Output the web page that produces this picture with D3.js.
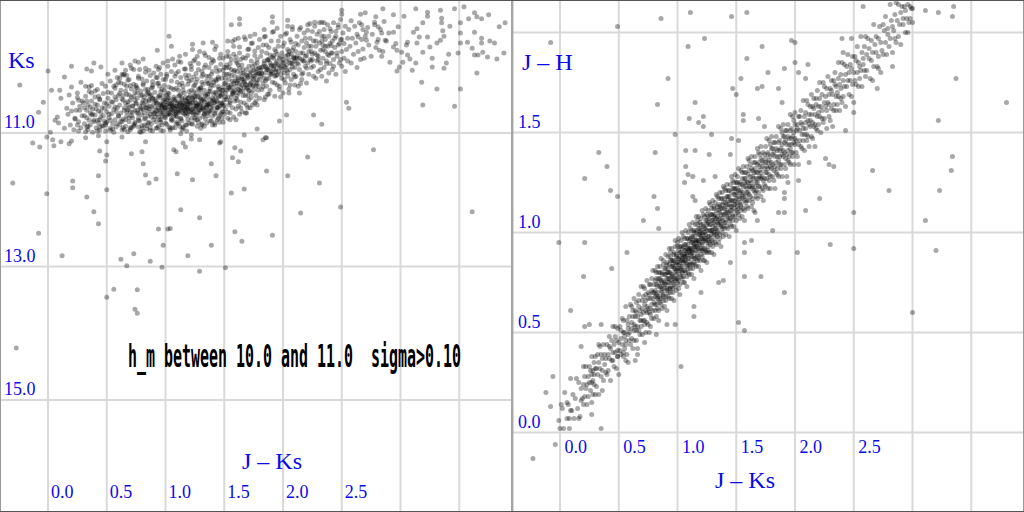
<!DOCTYPE html>
<html>
<head>
<meta charset="utf-8">
<script src="https://cdn.jsdelivr.net/npm/d3@7/dist/d3.min.js"></script>
<style>
  body { margin: 0; background: #fff; }
  svg { display: block; }
</style>
</head>
<body>
<div id="chart"></div>
<script>
// ---- data : Ks vs J-Ks (left panel) ----
var ksCloud = [
[0.17,10.72],[0.19,10.88],[0.21,10.55],[0.22,10.95],[0.24,10.66],[0.25,10.47],[0.26,10.83],[0.27,10.60],[0.28,10.92],[0.29,10.74],[0.18,10.43],[0.23,10.79],[0.26,10.97],[0.29,10.52],[0.20,10.67],
[0.31,10.62],[0.31,10.86],[0.32,10.45],[0.33,10.77],[0.34,10.95],[0.34,10.58],[0.35,10.38],[0.36,10.70],[0.36,10.88],[0.37,10.52],[0.38,10.99],[0.38,10.64],[0.39,10.81],[0.40,10.46],[0.40,10.73],[0.41,10.92],[0.42,10.58],[0.42,10.35],[0.43,10.67],[0.43,10.85],[0.44,10.96],[0.44,10.50],[0.45,10.76],[0.32,10.98],[0.37,10.29],
[0.46,10.62],[0.46,10.89],[0.47,10.41],[0.47,10.74],[0.48,10.55],[0.49,10.97],[0.49,10.30],[0.50,10.68],[0.50,10.84],[0.51,10.48],[0.52,10.77],[0.52,10.60],[0.53,10.93],[0.53,10.22],[0.54,10.40],[0.54,10.71],[0.55,10.86],[0.55,10.54],[0.56,10.65],[0.56,10.99],[0.57,10.33],[0.57,10.80],[0.58,10.50],[0.58,10.91],[0.59,10.62],[0.59,10.17],[0.60,10.75],[0.60,10.44],[0.51,10.12],[0.48,10.82],
[0.61,10.58],[0.61,10.88],[0.62,10.36],[0.62,10.70],[0.63,10.95],[0.63,10.49],[0.64,10.13],[0.64,10.79],[0.65,10.62],[0.65,10.27],[0.66,10.90],[0.66,10.55],[0.67,10.74],[0.67,10.42],[0.68,10.98],[0.68,10.65],[0.69,10.20],[0.69,10.83],[0.70,10.51],[0.70,10.69],[0.71,10.34],[0.71,10.92],[0.72,10.60],[0.72,10.77],[0.73,10.45],[0.73,10.05],[0.74,10.86],[0.74,10.66],[0.75,10.29],[0.75,10.56],[0.62,10.82],[0.64,10.44],[0.66,10.06],[0.68,10.53],[0.70,10.95],[0.71,10.74],[0.73,10.88],[0.74,10.39],[0.69,10.62],[0.67,10.30],
[0.76,10.70],[0.76,10.48],[0.77,10.91],[0.77,10.18],[0.78,10.60],[0.78,10.82],[0.79,10.37],[0.79,10.99],[0.80,10.55],[0.80,10.73],[0.81,10.26],[0.81,10.64],[0.82,10.88],[0.82,10.46],[0.83,10.03],[0.83,10.78],[0.84,10.58],[0.84,10.94],[0.85,10.35],[0.85,10.67],[0.86,10.52],[0.86,10.84],[0.87,10.14],[0.87,10.72],[0.88,10.43],[0.88,10.61],[0.89,10.97],[0.89,10.28],[0.90,10.80],[0.90,10.55],[0.76,10.33],[0.78,10.05],[0.79,10.66],[0.80,10.89],[0.81,10.51],[0.83,10.62],[0.84,10.22],[0.85,10.85],[0.86,10.41],[0.87,10.96],[0.88,10.76],[0.89,10.49],[0.90,10.10],[0.77,10.78],[0.82,10.70],[0.84,10.42],[0.86,10.64],[0.88,10.33],[0.80,10.93],[0.89,10.68],
[0.91,10.61],[0.91,10.39],[0.92,10.83],[0.92,10.00],[0.93,10.55],[0.93,10.72],[0.94,10.25],[0.94,10.90],[0.95,10.47],[0.95,10.65],[0.96,10.80],[0.96,10.12],[0.97,10.58],[0.97,10.35],[0.98,10.97],[0.98,10.69],[0.99,10.50],[0.99,10.76],[1.00,10.20],[1.00,10.62],[1.01,10.87],[1.01,10.43],[1.02,10.56],[1.02,9.92],[1.03,10.71],[1.03,10.31],[1.04,10.93],[1.04,10.52],[1.05,10.66],[1.05,10.08],
[0.91,10.76],[0.92,10.52],[0.93,10.92],[0.94,10.62],[0.95,10.30],[0.96,10.56],[0.97,10.74],[0.98,10.44],[0.99,10.62],[1.00,10.85],[1.01,10.58],[1.02,10.71],[1.03,10.48],[1.04,10.64],[1.05,10.79],[0.92,10.66],[0.94,10.45],[0.96,10.68],[0.98,10.57],[1.00,10.53],[1.02,10.40],[1.04,10.73],[0.93,10.17],[0.97,10.88],[1.01,10.15],[1.03,10.60],[0.95,10.80],[0.99,10.36],[1.05,10.55],[0.97,10.63],
[1.06,10.58],[1.06,10.81],[1.07,10.35],[1.07,10.67],[1.08,10.92],[1.08,10.49],[1.09,10.11],[1.09,10.75],[1.10,10.60],[1.10,10.24],[1.11,10.86],[1.11,10.53],[1.12,10.69],[1.12,9.85],[1.13,10.42],[1.13,10.78],[1.14,10.62],[1.14,10.95],[1.15,10.30],[1.15,10.55],[1.16,10.72],[1.16,10.04],[1.17,10.47],[1.17,10.88],[1.18,10.64],[1.18,10.18],[1.19,10.57],[1.19,10.80],[1.20,10.38],[1.20,10.68],
[1.06,10.65],[1.07,10.50],[1.08,10.72],[1.09,10.60],[1.10,10.84],[1.11,10.66],[1.12,10.56],[1.13,10.62],[1.14,10.50],[1.15,10.70],[1.16,10.60],[1.17,10.66],[1.18,10.52],[1.19,10.71],[1.20,10.55],[1.07,10.59],[1.09,10.68],[1.11,10.45],[1.13,10.55],[1.15,10.64],[1.17,10.58],[1.19,10.64],[1.08,9.98],[1.12,10.28],[1.16,10.40],[1.10,10.76],[1.14,10.82],[1.18,10.88],[1.06,10.92],[1.20,10.22],[1.13,9.94],[1.17,10.13],[1.11,10.36],[1.15,10.91],[1.19,10.48],
[1.21,10.62],[1.21,10.44],[1.22,10.78],[1.22,10.05],[1.23,10.55],[1.23,10.87],[1.24,10.30],[1.24,10.68],[1.25,10.51],[1.25,9.90],[1.26,10.73],[1.26,10.40],[1.27,10.60],[1.27,10.19],[1.28,10.84],[1.28,10.56],[1.29,10.35],[1.29,10.66],[1.30,10.93],[1.30,10.48],[1.31,10.08],[1.31,10.62],[1.32,10.75],[1.32,10.27],[1.33,10.53],[1.33,9.80],[1.34,10.68],[1.34,10.42],[1.35,10.85],[1.35,10.58],
[1.21,10.56],[1.22,10.65],[1.23,10.48],[1.24,10.58],[1.25,10.64],[1.26,10.55],[1.27,10.69],[1.28,10.46],[1.29,10.58],[1.30,10.65],[1.31,10.52],[1.32,10.60],[1.33,10.66],[1.34,10.50],[1.35,10.62],[1.22,10.36],[1.24,10.16],[1.26,10.24],[1.28,10.05],[1.30,10.32],[1.32,10.12],[1.34,9.98],[1.23,10.70],[1.25,10.80],[1.27,10.90],[1.29,10.78],[1.31,10.86],[1.33,10.36],[1.35,10.22],[1.21,9.96],[1.27,9.85],[1.30,10.41],[1.24,10.45],[1.33,10.72],[1.26,10.62],
[1.36,10.45],[1.36,10.70],[1.37,10.15],[1.37,10.56],[1.38,10.82],[1.38,10.33],[1.39,9.95],[1.39,10.62],[1.40,10.48],[1.40,10.75],[1.41,10.24],[1.41,10.55],[1.42,10.88],[1.42,9.75],[1.43,10.40],[1.43,10.66],[1.44,10.08],[1.44,10.52],[1.45,10.78],[1.45,10.30],[1.46,10.60],[1.46,9.88],[1.47,10.44],[1.47,10.71],[1.48,10.18],[1.48,10.57],[1.49,10.84],[1.49,10.36],[1.50,10.50],[1.50,10.02],
[1.36,10.58],[1.37,10.38],[1.38,10.50],[1.39,10.28],[1.40,10.60],[1.41,10.42],[1.42,10.54],[1.43,10.20],[1.44,10.62],[1.45,10.46],[1.46,10.35],[1.47,10.55],[1.48,10.42],[1.49,10.60],[1.50,10.26],[1.37,10.02],[1.39,10.12],[1.41,9.92],[1.43,10.02],[1.45,10.16],[1.47,9.82],[1.49,10.06],[1.38,10.68],[1.40,10.88],[1.42,10.70],[1.44,10.80],[1.46,10.74],[1.48,10.68],[1.50,10.72],[1.36,10.26],
[1.51,10.40],[1.51,10.64],[1.52,10.12],[1.52,10.50],[1.53,10.78],[1.53,10.28],[1.54,9.85],[1.54,10.58],[1.55,10.35],[1.55,10.70],[1.56,10.05],[1.56,10.46],[1.57,10.22],[1.57,10.62],[1.58,9.70],[1.58,10.38],[1.59,10.52],[1.59,10.15],[1.60,10.80],[1.60,10.30],[1.61,9.95],[1.61,10.44],[1.62,10.60],[1.62,10.20],[1.63,10.36],[1.63,9.80],[1.64,10.54],[1.64,10.10],[1.65,10.28],[1.65,10.68],
[1.51,10.25],[1.52,10.36],[1.53,10.46],[1.54,10.20],[1.55,10.52],[1.56,10.32],[1.57,10.42],[1.58,10.26],[1.59,10.36],[1.60,10.48],[1.61,10.22],[1.62,10.40],[1.63,10.26],[1.64,10.38],[1.65,10.16],[1.52,9.98],[1.54,10.02],[1.56,9.90],[1.58,10.08],[1.60,9.86],[1.62,9.98],[1.64,9.90],[1.53,9.62],[1.59,9.60],[1.63,10.72],
[1.66,10.38],[1.66,10.05],[1.67,10.55],[1.67,10.22],[1.68,9.88],[1.68,10.44],[1.69,10.70],[1.69,10.14],[1.70,10.32],[1.70,9.75],[1.71,10.50],[1.71,10.00],[1.72,10.26],[1.72,10.62],[1.73,9.92],[1.73,10.40],[1.74,10.18],[1.74,9.65],[1.75,10.36],[1.75,10.06],[1.76,10.55],[1.76,9.84],[1.77,10.24],[1.77,10.44],[1.78,9.95],[1.78,10.12],[1.79,10.30],[1.79,9.72],[1.80,10.20],[1.80,10.48],
[1.66,10.20],[1.67,10.32],[1.68,10.12],[1.69,10.28],[1.70,10.16],[1.71,10.36],[1.72,10.10],[1.73,10.24],[1.74,10.30],[1.75,10.20],[1.76,10.14],[1.77,10.04],[1.78,10.26],[1.79,10.10],[1.80,10.02],[1.68,9.60],[1.72,9.55],[1.76,9.52],[1.70,10.62],[1.78,10.58],
[1.81,10.15],[1.81,9.85],[1.82,10.35],[1.82,10.02],[1.83,9.68],[1.83,10.25],[1.84,10.50],[1.84,9.92],[1.85,10.10],[1.85,9.55],[1.86,10.30],[1.86,9.80],[1.87,10.05],[1.87,10.42],[1.88,9.72],[1.88,10.18],[1.89,9.95],[1.89,10.36],[1.90,9.62],[1.90,10.08],[1.91,10.24],[1.91,9.86],[1.92,10.00],[1.92,9.48],[1.93,10.15],[1.93,10.45],[1.94,9.78],[1.94,10.05],[1.95,9.92],[1.95,10.28],
[1.82,10.12],[1.83,10.00],[1.84,10.18],[1.85,10.22],[1.86,10.02],[1.87,9.90],[1.88,10.06],[1.89,10.12],[1.90,9.98],[1.91,10.10],[1.92,9.88],[1.93,9.98],[1.94,10.14],[1.95,9.82],[1.84,9.45],
[1.96,10.08],[1.96,9.70],[1.97,10.30],[1.97,9.88],[1.98,10.02],[1.98,9.55],[1.99,10.18],[1.99,9.80],[2.00,9.95],[2.00,10.40],[2.01,9.65],[2.01,10.10],[2.02,9.85],[2.02,10.25],[2.03,9.50],[2.03,9.98],[2.04,10.15],[2.04,9.75],[2.05,9.90],[2.05,10.34],[2.06,9.60],[2.06,10.05],[2.07,9.82],[2.07,10.20],[2.08,9.95],[2.08,9.45],[2.09,10.12],[2.09,9.72],[2.10,9.88],[2.10,10.02],
[1.97,10.00],[1.99,9.94],[2.01,10.00],[2.03,10.06],[2.05,9.82],[2.07,9.96],[2.09,9.86],[1.98,10.46],[2.04,9.40],[2.10,10.28],
[2.11,9.78],[2.11,10.15],[2.12,9.55],[2.12,9.95],[2.13,10.30],[2.13,9.68],[2.14,9.88],[2.14,10.05],[2.15,9.42],[2.15,9.80],[2.16,10.20],[2.16,9.62],[2.17,9.92],[2.17,10.10],[2.18,9.72],[2.18,9.50],[2.19,10.00],[2.19,9.85],[2.20,10.25],[2.20,9.65],[2.21,9.95],[2.21,9.38],[2.22,9.78],[2.22,10.12],[2.23,9.58],[2.23,9.90],[2.24,10.02],[2.24,9.70],[2.25,9.82],[2.25,9.48],
[2.12,9.85],[2.16,9.90],[2.20,9.84],[2.24,9.92],[2.14,10.40],
[2.26,9.62],[2.26,10.00],[2.27,9.80],[2.27,9.40],[2.28,10.18],[2.28,9.70],[2.29,9.92],[2.29,9.52],[2.30,9.85],[2.30,10.08],[2.31,9.65],[2.31,9.35],[2.32,9.95],[2.32,9.76],[2.33,10.15],[2.33,9.55],[2.34,9.88],[2.34,9.68],[2.35,9.45],[2.35,10.02],[2.36,9.78],[2.36,9.60],[2.37,9.92],[2.37,10.22],[2.38,9.70],[2.38,9.38],[2.39,9.84],[2.39,9.55],[2.40,9.96],[2.40,9.66],
[2.41,9.48],[2.41,9.80],[2.42,10.05],[2.42,9.62],[2.43,9.35],[2.43,9.90],[2.44,9.72],[2.45,9.55],[2.45,10.12],[2.46,9.85],[2.47,9.42],[2.47,9.68],[2.48,9.95],[2.49,9.60],[2.49,9.30],[2.50,9.78],[2.50,10.00],[2.51,9.50],[2.52,9.88],[2.52,9.66],[2.53,9.40],[2.53,10.08],[2.54,9.75],[2.55,9.58],[2.55,9.92],
[2.56,9.45],[2.57,9.70],[2.58,9.95],[2.58,9.32],[2.59,9.58],[2.60,9.82],[2.61,9.40],[2.62,9.65],[2.63,10.02],[2.63,9.52],[2.64,9.78],[2.65,9.35],[2.66,9.90],[2.67,9.60],[2.68,9.45],[2.68,9.74],[2.69,9.88],[2.70,9.55],
[2.72,9.42],[2.73,9.68],[2.75,9.85],[2.76,9.52],[2.78,9.38],[2.79,9.72],[2.81,9.60],[2.83,9.45],[2.85,9.78],[2.86,9.33],[2.88,9.62],[2.90,9.50],
[0.61,10.41],[0.63,10.83],[0.63,10.12],[0.65,10.66],[0.65,10.95],[0.66,10.37],[0.68,10.58],[0.68,10.21],[0.69,10.77],[0.71,10.46],[0.71,10.03],[0.72,10.69],[0.73,10.90],[0.75,10.32],[0.75,10.55],[0.77,10.15],[0.77,10.81],[0.79,10.44],[0.79,10.63],[0.81,10.97],[0.81,10.28],[0.83,10.52],[0.83,10.09],[0.85,10.74],[0.85,10.39],[0.87,10.92],[0.87,10.60],[0.89,10.23],[0.89,10.48],[0.90,10.71],
[0.60,10.74],[0.62,10.25],[0.64,10.51],[0.66,10.80],[0.67,10.14],[0.69,10.43],[0.70,10.92],[0.72,10.59],[0.73,10.27],[0.74,10.84],[0.76,10.40],[0.76,10.66],[0.78,10.98],[0.80,10.19],[0.81,10.57],[0.82,10.79],[0.83,10.35],[0.84,10.62],[0.86,10.06],[0.86,10.50],[0.88,10.86],[0.89,10.31],[0.64,10.92],[0.67,10.68],[0.70,10.29],[0.74,10.51],[0.77,10.71],[0.80,10.43],[0.84,10.89],[0.87,10.45],
[0.91,10.49],[0.92,10.93],[0.93,10.26],[0.93,10.67],[0.94,10.05],[0.95,10.58],[0.96,10.84],[0.96,10.38],[0.97,10.71],[0.98,9.95],[0.99,10.62],[0.99,10.29],[1.00,10.77],[1.01,10.50],[1.01,10.12],[1.02,10.65],[1.03,10.91],[1.03,10.41],[1.04,10.70],[1.05,10.22],[1.05,10.59],[1.06,9.89],[1.07,10.74],[1.07,10.46],[1.08,10.63],[1.09,10.33],[1.09,10.86],[1.10,10.55],[1.11,10.08],[1.11,10.69],[1.12,10.44],[1.13,10.79],[1.13,10.17],[1.14,10.58],[1.15,10.93],[1.15,10.36],[1.16,10.66],[1.17,9.82],[1.17,10.51],[1.18,10.74],[1.19,10.27],[1.19,10.61],[1.20,10.85],[1.20,10.47],
[0.91,10.70],[0.92,10.55],[0.94,10.76],[0.95,10.44],[0.97,10.60],[0.98,10.51],[1.00,10.66],[1.01,10.73],[1.02,10.47],[1.04,10.56],[1.05,10.81],[1.06,10.61],[1.08,10.52],[1.09,10.70],[1.10,10.63],[1.12,10.59],[1.13,10.66],[1.14,10.48],[1.16,10.57],[1.17,10.70],[1.18,10.62],[1.19,10.53],[0.92,10.17],[0.95,10.02],[0.98,10.20],[1.02,10.00],[1.05,10.33],[1.08,10.15],[1.11,9.93],[1.14,10.25],[1.17,10.04],[1.20,10.14],[0.96,10.96],[1.04,10.96],[1.12,10.90],[1.18,10.97],
[1.21,10.53],[1.22,10.86],[1.22,10.21],[1.23,10.64],[1.24,9.92],[1.25,10.45],[1.25,10.77],[1.26,10.11],[1.27,10.58],[1.28,10.34],[1.28,10.70],[1.29,9.78],[1.30,10.50],[1.31,10.88],[1.31,10.24],[1.32,10.63],[1.33,10.02],[1.34,10.44],[1.34,10.79],[1.35,10.15],[1.36,10.56],[1.37,9.87],[1.37,10.67],[1.38,10.38],[1.39,10.82],[1.40,10.08],[1.40,10.52],[1.41,10.29],[1.42,10.72],[1.43,9.70],[1.43,10.47],[1.44,10.61],[1.45,10.19],[1.46,10.84],[1.46,10.40],[1.47,9.97],[1.48,10.55],[1.49,10.31],[1.49,10.68],[1.50,10.12],
[1.21,10.68],[1.23,10.50],[1.24,10.72],[1.26,10.60],[1.27,10.45],[1.29,10.64],[1.30,10.56],[1.32,10.49],[1.33,10.71],[1.35,10.61],[1.36,10.42],[1.38,10.57],[1.39,10.66],[1.41,10.50],[1.42,10.39],[1.44,10.54],[1.45,10.62],[1.47,10.45],[1.48,10.36],[1.50,10.58],[1.22,10.00],[1.25,10.28],[1.28,9.96],[1.31,10.15],[1.34,9.84],[1.37,10.26],[1.40,9.90],[1.43,10.22],[1.46,10.06],[1.49,9.88],[1.24,10.38],[1.27,10.80],[1.30,10.33],[1.33,10.90],[1.36,10.74],[1.39,10.20],[1.42,10.85],[1.45,10.34],[1.48,10.78],[1.23,9.75],
[1.51,10.46],[1.52,10.02],[1.53,10.69],[1.53,9.78],[1.54,10.31],[1.55,10.55],[1.56,10.14],[1.57,9.63],[1.57,10.40],[1.58,10.76],[1.59,10.22],[1.60,9.92],[1.61,10.51],[1.61,10.08],[1.62,10.35],[1.63,9.71],[1.64,10.62],[1.65,10.19],[1.65,9.98],[1.66,10.44],[1.67,9.56],[1.68,10.27],[1.69,10.05],[1.69,10.58],[1.70,9.84],[1.71,10.37],[1.72,10.13],[1.73,9.66],[1.73,10.47],[1.74,10.00],[1.75,10.29],[1.76,9.77],[1.77,10.52],[1.77,10.09],[1.78,9.90],[1.79,10.36],[1.80,9.60],
[1.51,10.18],[1.53,10.33],[1.54,10.12],[1.56,10.28],[1.58,10.40],[1.59,10.06],[1.61,10.25],[1.62,10.17],[1.64,10.32],[1.66,10.10],[1.67,10.24],[1.69,10.33],[1.70,10.18],[1.72,10.28],[1.73,10.07],[1.75,10.15],[1.77,10.30],[1.78,10.20],[1.80,10.11],[1.52,9.85],[1.55,9.96],[1.58,9.82],[1.60,10.64],[1.63,10.03],[1.66,9.87],[1.68,10.70],[1.71,9.74],[1.74,10.58],[1.76,9.97],[1.79,10.03],[1.55,10.80],[1.62,9.58],[1.70,10.44],
[1.81,10.06],[1.82,9.78],[1.83,10.31],[1.84,9.56],[1.85,10.00],[1.86,10.19],[1.86,9.68],[1.87,9.91],[1.88,10.42],[1.89,9.83],[1.90,10.12],[1.91,9.49],[1.92,10.04],[1.93,10.25],[1.93,9.75],[1.94,9.95],[1.95,10.13],[1.96,9.62],[1.97,10.35],[1.98,9.86],[1.99,10.05],[2.00,9.70],[2.01,10.20],[2.02,9.52],[2.03,9.92],[2.04,10.09],[2.05,9.78],[2.06,10.28],[2.07,9.64],[2.08,10.01],[2.09,9.88],[2.10,10.16],
[1.82,10.10],[1.84,9.96],[1.86,10.05],[1.88,9.90],[1.90,10.00],[1.92,9.84],[1.94,10.08],[1.96,9.98],[1.98,10.12],[2.00,9.90],[2.02,10.02],[2.04,9.83],[2.06,9.95],[2.08,9.76],[2.10,9.92],[1.85,10.46],[1.95,9.43],[2.05,10.40],
[2.11,9.66],[2.13,9.97],[2.14,9.45],[2.16,10.12],[2.17,9.80],[2.19,9.58],[2.20,10.03],[2.22,9.70],[2.23,9.36],[2.25,9.90],[2.26,10.15],[2.28,9.62],[2.29,9.83],[2.31,9.48],[2.32,10.05],[2.34,9.75],[2.35,9.55],[2.37,9.96],[2.38,9.82],[2.40,9.44],[2.41,9.69],[2.43,10.00],[2.44,9.58],[2.46,9.80],[2.47,9.38],[2.49,9.90],[2.12,9.88],[2.18,9.92],[2.24,9.78],[2.30,9.90],[2.36,9.70],[2.42,9.80],[2.48,9.66],[2.15,10.26],[2.21,9.46],[2.27,9.34],[2.33,9.62],[2.39,10.10],[2.45,9.48],[2.50,9.60],
[0.31,10.74],[0.33,10.52],[0.34,10.90],[0.36,10.61],[0.37,10.40],[0.39,10.83],[0.40,10.57],[0.42,10.97],[0.43,10.45],[0.45,10.69],[0.46,10.26],[0.48,10.63],[0.49,10.88],[0.51,10.39],[0.52,10.72],[0.54,10.53],[0.55,10.94],[0.57,10.46],[0.58,10.68],[0.60,10.24],[0.32,10.30],[0.35,10.81],[0.38,10.72],[0.41,10.64],[0.44,10.80],[0.47,10.90],[0.50,10.56],[0.53,10.81],[0.56,10.30],[0.59,10.86]
];

var ksSparse = [
[-0.13,11.15],[-0.07,11.21],[0.05,11.19],[0.11,11.13],[0.18,11.16],[0.20,11.12],[0.32,11.07],[0.43,11.04],[0.50,11.13],[0.44,11.27],[0.50,11.33],[0.49,11.42],[0.43,11.64],[0.50,11.85],[0.33,11.96],[0.21,11.72],[0.21,11.82],[-0.01,11.91],[-0.30,11.75],[0.39,12.18],[0.43,12.36],[-0.08,12.50],[0.12,12.84],
[0.63,11.06],[0.83,11.13],[0.71,11.31],[0.80,11.28],[0.81,11.46],[0.83,11.63],[0.86,11.75],[0.92,11.69],[1.07,11.25],[1.09,11.28],[1.15,11.15],[1.17,11.21],[1.13,11.01],[1.22,11.03],[1.22,11.09],[1.29,11.10],[1.10,11.61],[1.23,11.70],[1.13,12.15],[1.29,12.27],[1.39,11.46],[1.43,11.64],[1.46,11.15],[1.47,11.13],[1.59,11.22],[1.64,11.27],[1.57,11.37],[1.62,11.43],[1.56,11.90],[1.67,11.84],[1.67,11.03],[1.83,11.10],[1.86,11.07],[1.86,11.57],[2.04,11.64],[2.21,11.36],[2.31,11.75],[2.15,12.20],[2.49,12.11],[2.77,11.25],[3.61,12.18],
[0.94,12.44],[1.02,12.44],[1.04,12.43],[0.98,12.68],[1.39,12.68],[1.19,12.84],[1.59,12.48],[1.65,12.62],[1.91,12.53],[0.62,12.89],[0.67,12.99],[0.73,12.81],[0.87,12.92],[0.97,13.01],[1.29,13.07],[1.51,13.02],[0.56,13.34],[0.76,13.35],[0.50,13.46],[0.74,13.64],[0.76,13.70],[-0.27,14.22],
[1.78,10.94],[1.85,11.07],[1.97,10.82],[2.03,10.73],[2.26,10.73],[2.33,10.87],[2.54,10.54],[2.56,10.63],
[1.91,9.26],[1.91,9.34],[2.04,9.31],[2.08,9.41],[2.33,9.34],[2.35,9.35],[2.50,9.16],[2.50,9.22],[2.66,9.22],[2.70,9.20],[2.79,9.26],[2.78,9.34],[2.85,9.14],[2.94,9.23],[3.03,9.25],[3.13,9.14],[3.23,9.19],[3.23,9.25],[3.34,9.16],[3.35,9.28],[3.46,9.14],[3.54,9.11],[3.63,9.20],[3.65,9.26],[3.75,9.23],[3.58,9.29],[3.69,9.29],[3.89,9.35],[3.84,9.41],[3.51,9.35],[3.42,9.40],[3.35,9.35],[3.19,9.35],[3.14,9.44],[3.11,9.49],[2.98,9.41],[2.94,9.49],[2.87,9.61],[2.84,9.50],[2.81,9.41],[2.71,9.49],[2.67,9.38],[2.64,9.56],[2.71,9.61],[2.80,9.64],[2.82,9.76],[2.84,9.85],[2.91,9.94],[2.97,10.07],[2.99,10.01],[3.02,9.94],[3.06,9.83],[3.08,9.89],[3.10,10.06],[3.14,9.65],[3.16,9.56],[3.19,9.79],[3.23,9.56],[3.25,9.71],[3.27,9.88],[3.27,10.01],[3.31,9.65],[3.34,9.61],[3.36,9.47],[3.37,9.55],[3.39,9.95],[3.41,9.82],[3.37,10.03],[3.49,9.80],[3.51,9.50],[3.51,9.65],[3.57,9.64],[3.61,9.73],[3.63,9.49],[3.69,9.58],[3.69,9.65],[3.70,9.79],[3.74,9.86],[3.66,9.83],[3.63,9.83],[3.76,9.62],[3.80,9.65],[3.82,9.89],[3.88,9.80],[3.65,10.10],[3.18,10.24],[3.31,10.34],[3.51,10.34],[3.19,10.58],[3.46,10.60],[2.97,9.76],[2.94,9.71],[3.01,9.79],[3.05,9.68],[3.06,9.64],[3.13,9.95],[2.96,9.66],
[-0.24,10.28],[0.00,10.07],[-0.04,10.54],[-0.08,10.69],[0.03,10.36],[0.10,10.36],[0.11,10.48],[0.14,10.16],[0.20,10.00],[0.20,10.31],[0.16,10.63],[0.28,10.24],[0.33,10.04],[0.37,10.07],[0.39,9.95],[0.45,10.01],[0.35,10.31],[0.40,10.37],[0.44,10.49],[0.25,10.40],[0.26,10.51],[0.27,10.66],[0.23,10.78],[0.25,10.88],[0.30,10.55],[0.33,10.66],[0.37,10.73],[0.42,10.81],[0.33,10.91],[0.14,10.93],[0.08,10.76],[0.06,10.81],[0.02,10.99],[-0.01,11.06],[0.04,11.10],[0.09,10.85],[0.44,10.91],[0.49,10.85],[0.53,10.96],[0.57,10.61],[0.58,10.28],[0.61,10.18],[0.63,9.95],[0.57,10.06],[0.65,10.12],[0.70,9.98],[0.74,9.92],[0.77,9.94],[0.81,9.89],[0.93,9.76],[1.03,9.55],[1.05,9.70],[1.56,9.38],[1.63,9.29],[1.63,9.37],[1.23,9.67],[1.32,9.65],[1.40,9.64]
];

// ---- data : J-H vs J-Ks (right panel) ----
var jhBand = [
[0.01,0.14],[0.03,0.02],[0.04,0.20],[0.06,0.07],[0.07,0.14],[0.08,0.02],[0.09,0.27],[0.10,0.11],
[0.11,0.19],[0.12,0.07],[0.13,0.17],[0.14,0.27],[0.15,0.12],[0.16,0.25],[0.17,0.08],[0.18,0.22],[0.19,0.17],[0.20,0.33],
[0.20,0.24],[0.21,0.18],[0.21,0.28],[0.22,0.22],[0.22,0.33],[0.23,0.14],[0.23,0.24],[0.24,0.28],[0.24,0.18],[0.25,0.33],[0.25,0.25],[0.26,0.21],[0.26,0.31],[0.27,0.25],[0.27,0.38],[0.27,0.29],[0.28,0.19],[0.28,0.31],[0.28,0.26],[0.29,0.35],[0.29,0.24],[0.29,0.29],[0.30,0.19],[0.30,0.32],[0.30,0.38],
[0.31,0.32],[0.31,0.23],[0.32,0.39],[0.32,0.29],[0.33,0.35],[0.33,0.19],[0.34,0.32],[0.34,0.43],[0.35,0.28],[0.35,0.39],[0.36,0.31],[0.36,0.37],[0.37,0.26],[0.37,0.44],[0.38,0.34],[0.38,0.39],[0.39,0.30],[0.39,0.37],[0.40,0.44],[0.40,0.29],[0.36,0.21],[0.33,0.44],
[0.41,0.39],[0.41,0.31],[0.42,0.48],[0.42,0.37],[0.43,0.42],[0.43,0.26],[0.44,0.46],[0.44,0.36],[0.45,0.40],[0.45,0.53],[0.46,0.33],[0.46,0.44],[0.47,0.40],[0.47,0.48],[0.48,0.32],[0.48,0.46],[0.49,0.38],[0.49,0.52],[0.50,0.29],[0.50,0.45],[0.42,0.43],[0.45,0.36],[0.47,0.53],[0.49,0.41],
[0.51,0.41],[0.51,0.53],[0.52,0.39],[0.52,0.51],[0.53,0.57],[0.53,0.44],[0.54,0.38],[0.54,0.50],[0.55,0.48],[0.55,0.42],[0.56,0.63],[0.56,0.46],[0.57,0.56],[0.57,0.39],[0.58,0.52],[0.58,0.49],[0.59,0.58],[0.59,0.46],[0.60,0.64],[0.60,0.44],[0.52,0.47],[0.54,0.56],[0.56,0.36],[0.58,0.54],[0.55,0.50],[0.59,0.50],
[0.61,0.55],[0.61,0.47],[0.61,0.63],[0.61,0.52],[0.62,0.58],[0.62,0.42],[0.62,0.61],[0.63,0.51],[0.63,0.54],[0.63,0.67],[0.63,0.46],[0.64,0.58],[0.64,0.53],[0.64,0.61],[0.65,0.46],[0.65,0.60],[0.65,0.51],[0.65,0.65],[0.66,0.42],[0.66,0.58],[0.66,0.53],[0.67,0.66],[0.67,0.51],[0.67,0.63],[0.67,0.69],[0.68,0.56],[0.68,0.49],[0.68,0.61],[0.69,0.59],[0.69,0.53],[0.69,0.73],[0.69,0.56],[0.70,0.66],[0.70,0.49],[0.70,0.62],
[0.71,0.60],[0.71,0.68],[0.71,0.56],[0.71,0.73],[0.72,0.54],[0.72,0.64],[0.72,0.56],[0.72,0.72],[0.73,0.61],[0.73,0.66],[0.73,0.50],[0.73,0.69],[0.74,0.60],[0.74,0.63],[0.74,0.76],[0.74,0.55],[0.75,0.67],[0.75,0.62],[0.75,0.70],[0.75,0.54],[0.76,0.69],[0.76,0.60],[0.76,0.74],[0.76,0.50],[0.77,0.67],[0.77,0.62],[0.77,0.74],[0.77,0.59],[0.78,0.71],[0.78,0.77],[0.78,0.64],[0.78,0.57],[0.79,0.70],[0.79,0.67],[0.79,0.61],[0.79,0.81],[0.80,0.65],[0.80,0.74],[0.80,0.57],[0.80,0.70],
[0.81,0.68],[0.81,0.76],[0.81,0.64],[0.81,0.81],[0.81,0.61],[0.81,0.71],[0.82,0.64],[0.82,0.80],[0.82,0.69],[0.82,0.74],[0.82,0.58],[0.82,0.77],[0.83,0.67],[0.83,0.70],[0.83,0.83],[0.83,0.62],[0.83,0.73],[0.83,0.68],[0.84,0.77],[0.84,0.61],[0.84,0.75],[0.84,0.66],[0.84,0.80],[0.84,0.56],[0.85,0.73],[0.85,0.68],[0.85,0.80],[0.85,0.65],[0.85,0.77],[0.85,0.83],
[0.86,0.71],[0.86,0.64],[0.86,0.76],[0.86,0.73],[0.86,0.67],[0.86,0.87],[0.87,0.70],[0.87,0.79],[0.87,0.62],[0.87,0.75],[0.87,0.72],[0.87,0.80],[0.88,0.69],[0.88,0.86],[0.88,0.66],[0.88,0.76],[0.88,0.68],[0.88,0.84],[0.89,0.74],[0.89,0.79],[0.89,0.63],[0.89,0.82],[0.89,0.72],[0.89,0.75],[0.90,0.89],[0.90,0.68],[0.90,0.79],[0.90,0.74],[0.90,0.82],[0.90,0.66],
[0.91,0.80],[0.91,0.71],[0.91,0.85],[0.91,0.61],[0.91,0.77],[0.91,0.72],[0.91,0.84],[0.92,0.70],[0.92,0.82],[0.92,0.88],[0.92,0.75],[0.92,0.68],[0.92,0.80],[0.92,0.77],[0.93,0.72],[0.93,0.92],[0.93,0.75],[0.93,0.84],[0.93,0.67],[0.93,0.80],[0.93,0.77],[0.94,0.86],[0.94,0.73],[0.94,0.90],[0.94,0.70],[0.94,0.80],[0.94,0.72],[0.94,0.88],
[0.95,0.78],[0.95,0.83],[0.95,0.67],[0.95,0.86],[0.95,0.76],[0.95,0.79],[0.95,0.92],[0.96,0.72],[0.96,0.83],[0.96,0.78],[0.96,0.86],[0.96,0.70],[0.96,0.84],[0.96,0.75],[0.97,0.90],[0.97,0.66],[0.97,0.82],[0.97,0.77],[0.97,0.89],[0.97,0.74],[0.97,0.86],[0.98,0.93],[0.98,0.80],[0.98,0.73],[0.98,0.85],[0.98,0.82],[0.98,0.76],[0.98,0.96],
[0.99,0.79],[0.99,0.88],[0.99,0.71],[0.99,0.84],[0.99,0.81],[0.99,0.89],[0.99,0.77],[1.00,0.95],[1.00,0.75],[1.00,0.85],[1.00,0.77],[1.00,0.93],[1.00,0.82],[1.00,0.87],
[1.01,0.72],[1.01,0.91],[1.01,0.81],[1.01,0.84],[1.01,0.97],[1.01,0.76],[1.01,0.87],[1.02,0.82],[1.02,0.90],[1.02,0.74],[1.02,0.88],[1.02,0.79],[1.02,0.93],[1.02,0.69],[1.03,0.86],[1.03,0.81],[1.03,0.93],[1.03,0.78],[1.03,0.90],[1.03,0.96],[1.03,0.83],[1.04,0.77],[1.04,0.89],[1.04,0.86],[1.04,0.80],[1.04,1.00],[1.04,0.83],[1.04,0.92],
[1.05,0.75],[1.05,0.88],[1.05,0.85],[1.05,0.93],[1.05,0.81],[1.05,0.98],[1.05,0.78],[1.06,0.89],[1.06,0.81],[1.06,0.97],[1.06,0.86],[1.06,0.91],[1.06,0.75],[1.06,0.94],[1.07,0.85],[1.07,0.88],[1.07,1.01],[1.07,0.80],[1.07,0.91],[1.07,0.86],[1.07,0.94],[1.08,0.78],[1.08,0.92],[1.08,0.83],[1.08,0.97],[1.08,0.73],[1.08,0.89],[1.08,0.84],
[1.09,0.97],[1.09,0.82],[1.09,0.94],[1.09,1.00],[1.09,0.87],[1.09,0.80],[1.09,0.92],[1.10,0.90],[1.10,0.84],[1.10,1.04],[1.10,0.87],[1.10,0.96],[1.10,0.79],[1.10,0.92],[1.02,0.85],[1.04,0.87],[1.06,0.88],[1.08,0.90],[1.10,0.91],
[1.11,0.89],[1.11,0.97],[1.11,0.85],[1.11,1.02],[1.11,0.82],[1.11,0.92],[1.11,0.84],[1.12,1.01],[1.12,0.90],[1.12,0.95],[1.12,0.79],[1.12,0.98],[1.12,0.88],[1.12,0.91],[1.13,1.05],[1.13,0.84],[1.13,0.95],[1.13,0.90],[1.13,0.98],[1.13,0.82],[1.13,0.96],[1.14,0.87],[1.14,1.01],[1.14,0.77],[1.14,0.93],[1.14,0.88],[1.14,1.00],[1.14,0.85],
[1.15,0.98],[1.15,1.04],[1.15,0.91],[1.15,0.84],[1.15,0.96],[1.15,0.93],[1.15,0.87],[1.16,1.08],[1.16,0.91],[1.16,1.00],[1.16,0.83],[1.16,0.96],[1.16,0.93],[1.16,1.01],[1.17,0.89],[1.17,1.06],[1.17,0.86],[1.17,0.96],[1.17,0.88],[1.17,1.04],[1.17,0.93],
[1.18,0.99],[1.18,0.83],[1.18,1.02],[1.18,0.92],[1.18,0.95],[1.18,1.08],[1.18,0.87],[1.19,0.99],[1.19,0.94],[1.19,1.02],[1.19,0.86],[1.19,1.00],[1.19,0.91],[1.19,1.05],[1.20,0.81],[1.20,0.97],[1.20,0.92],[1.20,1.04],[1.20,0.89],[1.20,1.01],[1.20,1.07],[1.12,0.92],[1.14,0.94],[1.16,0.95],[1.18,0.96],[1.20,0.98],
[1.21,0.95],[1.21,0.88],[1.21,1.00],[1.21,0.97],[1.21,0.91],[1.21,1.11],[1.21,0.94],[1.22,1.03],[1.22,0.86],[1.22,0.99],[1.22,0.96],[1.22,1.04],[1.22,0.92],[1.22,1.09],[1.23,0.90],[1.23,1.00],[1.23,0.92],[1.23,1.08],[1.23,0.97],[1.23,1.02],[1.23,0.86],[1.24,1.06],[1.24,0.96],[1.24,0.99],[1.24,1.12],[1.24,0.91],[1.24,1.02],[1.24,0.97],
[1.25,1.06],[1.25,0.90],[1.25,1.04],[1.25,0.95],[1.25,1.09],[1.25,0.85],[1.25,1.01],[1.26,0.96],[1.26,1.08],[1.26,0.93],[1.26,1.05],[1.26,1.11],[1.26,0.98],[1.26,0.91],[1.27,1.04],[1.27,1.01],[1.27,0.95],[1.27,1.15],[1.27,0.98],[1.27,1.07],[1.27,0.90],
[1.28,1.04],[1.28,1.01],[1.28,1.09],[1.28,0.97],[1.28,1.14],[1.28,0.94],[1.29,0.96],[1.29,1.12],[1.29,1.01],[1.29,1.06],[1.29,0.90],[1.29,1.09],[1.29,0.99],[1.30,1.03],[1.30,1.16],[1.30,0.95],[1.30,1.06],[1.30,1.01],[1.30,1.09],[1.30,0.93],
[1.31,1.08],[1.31,0.99],[1.31,1.13],[1.31,0.89],[1.31,1.05],[1.31,1.00],[1.31,1.12],[1.32,0.97],[1.32,1.09],[1.32,1.15],[1.32,1.02],[1.32,0.95],[1.32,1.07],[1.32,1.04],[1.33,0.99],[1.33,1.19],[1.33,1.02],[1.33,1.11],[1.33,0.94],[1.33,1.07],
[1.34,1.05],[1.34,1.13],[1.34,1.01],[1.34,1.18],[1.34,0.98],[1.34,1.08],[1.34,1.00],[1.35,1.17],[1.35,1.06],[1.35,1.11],[1.35,0.95],[1.35,1.14],[1.35,1.04],[1.36,1.07],[1.36,1.20],[1.36,0.99],[1.36,1.10],[1.36,1.05],[1.36,1.13],[1.36,0.97],
[1.37,1.12],[1.37,1.03],[1.37,1.17],[1.37,0.93],[1.37,1.09],[1.37,1.04],[1.38,1.17],[1.38,1.02],[1.38,1.14],[1.38,1.20],[1.38,1.07],[1.38,1.00],[1.38,1.12],[1.39,1.09],[1.39,1.03],[1.39,1.23],[1.39,1.06],[1.39,1.15],[1.39,0.98],[1.40,1.12],[1.40,1.09],[1.40,1.17],[1.40,1.05],[1.40,1.22],[1.40,1.02],
[1.41,1.13],[1.41,1.05],[1.41,1.21],[1.41,1.10],[1.41,1.15],[1.41,0.99],[1.42,1.18],[1.42,1.08],[1.42,1.11],[1.42,1.24],[1.42,1.03],[1.42,1.14],[1.43,1.10],[1.43,1.18],[1.43,1.02],[1.43,1.16],[1.43,1.07],[1.43,1.21],[1.44,0.98],[1.44,1.14],[1.44,1.09],[1.44,1.21],[1.44,1.06],[1.44,1.18],
[1.45,1.24],[1.45,1.11],[1.45,1.04],[1.45,1.16],[1.45,1.13],[1.45,1.07],[1.46,1.28],[1.46,1.11],[1.46,1.20],[1.46,1.03],[1.46,1.16],[1.46,1.13],[1.47,1.22],[1.47,1.09],[1.47,1.26],[1.47,1.06],[1.47,1.16],[1.47,1.08],
[1.48,1.25],[1.48,1.14],[1.48,1.19],[1.48,1.03],[1.48,1.22],[1.48,1.12],[1.49,1.16],[1.49,1.29],[1.49,1.08],[1.49,1.19],[1.49,1.14],[1.49,1.22],[1.50,1.06],[1.50,1.20],[1.50,1.11],[1.50,1.25],[1.50,1.01],[1.50,1.17],
[1.51,1.13],[1.51,1.25],[1.51,1.10],[1.51,1.22],[1.51,1.28],[1.51,1.15],[1.52,1.09],[1.52,1.21],[1.52,1.18],[1.52,1.12],[1.52,1.32],[1.53,1.15],[1.53,1.24],[1.53,1.07],[1.53,1.20],[1.53,1.17],[1.53,1.25],[1.54,1.14],[1.54,1.31],[1.54,1.11],[1.54,1.21],[1.54,1.13],
[1.55,1.30],[1.55,1.19],[1.55,1.24],[1.55,1.08],[1.55,1.27],[1.55,1.17],[1.56,1.20],[1.56,1.33],[1.56,1.12],[1.56,1.23],[1.56,1.18],[1.57,1.27],[1.57,1.11],[1.57,1.25],[1.57,1.16],[1.57,1.30],[1.57,1.06],
[1.58,1.23],[1.58,1.18],[1.58,1.30],[1.58,1.15],[1.58,1.27],[1.59,1.33],[1.59,1.20],[1.59,1.13],[1.59,1.25],[1.59,1.22],[1.59,1.16],[1.60,1.37],[1.60,1.20],[1.60,1.29],[1.60,1.12],[1.60,1.25],
[1.61,1.23],[1.61,1.31],[1.61,1.19],[1.61,1.36],[1.61,1.16],[1.62,1.26],[1.62,1.18],[1.62,1.34],[1.62,1.23],[1.62,1.28],[1.63,1.13],[1.63,1.32],[1.63,1.22],[1.63,1.25],[1.63,1.38],[1.64,1.17],[1.64,1.28],[1.64,1.23],[1.64,1.31],[1.64,1.15],
[1.65,1.30],[1.65,1.21],[1.65,1.35],[1.65,1.11],[1.65,1.27],[1.66,1.23],[1.66,1.35],[1.66,1.20],[1.66,1.32],[1.66,1.38],[1.67,1.25],[1.67,1.18],[1.67,1.30],[1.67,1.27],[1.67,1.21],[1.68,1.42],[1.68,1.25],[1.68,1.34],[1.68,1.17],[1.68,1.30],
[1.69,1.27],[1.69,1.35],[1.69,1.23],[1.69,1.40],[1.69,1.20],[1.70,1.31],[1.70,1.23],[1.70,1.39],[1.70,1.28],[1.70,1.33],
[1.71,1.18],[1.71,1.37],[1.71,1.27],[1.71,1.30],[1.71,1.43],[1.72,1.22],[1.72,1.33],[1.72,1.28],[1.72,1.36],[1.73,1.21],[1.73,1.35],[1.73,1.26],[1.73,1.40],[1.73,1.16],[1.74,1.32],[1.74,1.27],[1.74,1.39],[1.74,1.24],
[1.75,1.37],[1.75,1.43],[1.75,1.30],[1.75,1.23],[1.75,1.35],[1.76,1.33],[1.76,1.27],[1.76,1.47],[1.76,1.30],[1.77,1.39],[1.77,1.22],[1.77,1.35],[1.77,1.32],[1.77,1.40],[1.78,1.29],[1.78,1.46],[1.78,1.26],[1.78,1.36],
[1.79,1.28],[1.79,1.44],[1.79,1.33],[1.79,1.38],[1.79,1.22],[1.80,1.42],[1.80,1.32],[1.80,1.35],[1.80,1.48],
[1.81,1.28],[1.81,1.39],[1.81,1.34],[1.81,1.42],[1.82,1.26],[1.82,1.40],[1.82,1.31],[1.82,1.45],[1.83,1.22],[1.83,1.38],[1.83,1.33],[1.83,1.45],[1.84,1.30],[1.84,1.42],[1.84,1.48],[1.84,1.35],[1.85,1.29],[1.85,1.41],[1.85,1.38],[1.85,1.32],
[1.86,1.53],[1.86,1.36],[1.86,1.45],[1.86,1.28],[1.87,1.41],[1.87,1.38],[1.87,1.46],[1.87,1.34],[1.88,1.52],[1.88,1.32],[1.88,1.42],[1.88,1.34],[1.89,1.50],[1.89,1.39],[1.89,1.44],[1.89,1.28],[1.90,1.48],[1.90,1.38],[1.90,1.41],[1.90,1.54],
[1.91,1.34],[1.91,1.45],[1.91,1.40],[1.91,1.48],[1.92,1.32],[1.92,1.46],[1.92,1.37],[1.92,1.51],[1.93,1.28],[1.93,1.44],[1.93,1.39],[1.93,1.51],[1.94,1.36],[1.94,1.48],[1.94,1.54],[1.94,1.41],[1.95,1.35],[1.95,1.47],[1.95,1.44],[1.95,1.38],
[1.96,1.59],[1.96,1.42],[1.96,1.51],[1.96,1.34],[1.97,1.47],[1.97,1.44],[1.97,1.52],[1.97,1.40],[1.98,1.58],[1.98,1.38],[1.98,1.48],[1.98,1.40],[1.99,1.56],[1.99,1.45],[1.99,1.50],[1.99,1.34],[2.00,1.54],[2.00,1.44],[2.00,1.47],[2.00,1.60],
[2.01,1.40],[2.01,1.51],[2.01,1.46],[2.02,1.54],[2.02,1.38],[2.02,1.52],[2.03,1.44],[2.03,1.58],[2.03,1.34],[2.04,1.51],[2.04,1.46],[2.04,1.58],[2.05,1.43],[2.05,1.55],[2.05,1.61],[2.06,1.49],[2.06,1.42],[2.06,1.54],[2.07,1.52],[2.07,1.46],[2.07,1.66],
[2.08,1.49],[2.08,1.58],[2.08,1.41],[2.09,1.55],[2.09,1.52],[2.09,1.60],[2.10,1.49],[2.10,1.66],[2.10,1.46],[2.11,1.56],[2.11,1.48],[2.11,1.64],[2.12,1.54],[2.12,1.59],[2.12,1.43],[2.13,1.63],[2.13,1.53],[2.13,1.56],[2.14,1.69],[2.14,1.48],[2.14,1.59],
[2.15,1.55],[2.15,1.63],[2.15,1.47],[2.16,1.62],[2.16,1.53],[2.16,1.67],[2.17,1.43],[2.17,1.59],[2.17,1.54],[2.18,1.67],[2.18,1.52],[2.18,1.64],[2.19,1.71],[2.19,1.58],[2.19,1.51],[2.20,1.63],[2.20,1.60],[2.20,1.54],
[2.21,1.75],[2.21,1.58],[2.21,1.67],[2.22,1.50],[2.22,1.63],[2.23,1.61],[2.23,1.69],[2.23,1.57],[2.24,1.75],[2.24,1.55],[2.25,1.65],[2.25,1.57],[2.25,1.73],[2.26,1.63],[2.26,1.68],[2.27,1.52],[2.27,1.72],[2.27,1.61],[2.28,1.65],[2.28,1.78],[2.29,1.58],[2.29,1.69],[2.29,1.64],[2.30,1.72],[2.30,1.56],
[2.31,1.71],[2.31,1.62],[2.31,1.76],[2.32,1.53],[2.32,1.69],[2.33,1.64],[2.33,1.76],[2.33,1.61],[2.34,1.74],[2.34,1.80],[2.35,1.68],[2.35,1.61],[2.35,1.73],[2.36,1.70],[2.36,1.64],[2.37,1.85],[2.37,1.68],[2.37,1.77],[2.38,1.61],[2.38,1.74],[2.39,1.72],[2.39,1.79],[2.39,1.67],[2.40,1.85],[2.40,1.65],
[2.41,1.76],[2.41,1.68],[2.42,1.84],[2.42,1.73],[2.43,1.79],[2.43,1.63],[2.44,1.83],[2.44,1.73],[2.45,1.76],[2.45,1.89],[2.46,1.69],[2.46,1.80],[2.47,1.76],[2.47,1.84],[2.48,1.68],[2.48,1.82],[2.49,1.74],[2.49,1.88],[2.50,1.65],[2.50,1.80],
[2.51,1.76],[2.51,1.88],[2.52,1.74],[2.52,1.86],[2.53,1.93],[2.53,1.80],[2.54,1.73],[2.54,1.85],[2.55,1.83],[2.55,1.77],[2.56,1.98],[2.56,1.81],[2.57,1.90],[2.57,1.73],[2.58,1.87],[2.58,1.84],[2.59,1.93],[2.59,1.81],[2.60,1.98],[2.60,1.78],
[2.61,1.89],[2.61,1.81],[2.62,1.97],[2.63,1.87],[2.63,1.92],[2.64,1.77],[2.65,1.96],[2.65,1.86],[2.66,1.90],[2.67,2.04],[2.67,1.83],[2.68,1.94],[2.69,1.90],[2.69,1.98],[2.70,1.83],[2.71,1.97],[2.71,1.88],[2.72,2.03],[2.73,1.80],[2.73,1.95],[2.74,1.91],[2.75,2.04],[2.75,1.89],[2.76,2.01],[2.77,2.08],[2.77,1.95],[2.78,1.89],[2.79,2.02],[2.79,1.99],[2.80,1.93],
[2.81,2.14],[2.81,1.97],[2.82,2.06],[2.83,1.90],[2.83,2.03],[2.84,2.01],[2.85,2.09],[2.85,1.97],[2.86,2.15],[2.86,1.95],[2.87,2.06],[2.88,1.98],[2.88,2.14],[2.89,2.04],[2.90,2.10],[2.90,1.94],[2.91,2.13],[2.92,2.04],[2.92,2.07],[2.93,2.13],[2.94,2.00],[2.94,2.11],[2.95,2.07],[2.96,2.14],[2.96,2.00],[2.97,2.05],[2.98,2.13],[2.98,2.07],[2.99,2.12],[3.00,2.05],[3.00,2.12]
];

var jhSparse = [
[0.86,2.07],[1.11,2.10],[1.46,2.08],[1.59,2.10],[0.49,2.03],[2.58,2.13],[3.11,2.11],[3.22,2.10],[3.35,2.13],[3.34,2.08],
[-0.08,1.95],[1.09,1.93],[1.23,1.97],[1.72,1.93],[1.59,1.87],[1.97,1.96],[2.00,1.95],[0.92,1.77],[0.83,1.64],[1.15,1.65],[1.54,1.77],[1.47,1.72],[1.50,1.69],[1.68,1.72],[1.72,1.73],[1.77,1.80],[1.86,1.72],[1.91,1.82],[2.00,1.85],[2.03,1.80],[2.09,1.77],[2.11,1.84],[2.40,1.97],[2.41,1.90],[2.48,1.97],
[3.37,1.77],[3.80,1.65],[3.22,1.56],[2.71,1.82],[2.83,1.83],[2.66,1.76],[2.70,1.72],[2.50,1.60],[2.43,1.51],
[1.10,1.57],[1.22,1.58],[1.22,1.53],[1.18,1.55],[0.98,1.49],[1.29,1.49],[1.56,1.59],[1.56,1.56],[1.69,1.57],[1.74,1.53],[1.89,1.65],
[0.33,1.40],[0.40,1.33],[0.21,1.27],[0.43,1.21],[0.49,1.18],[0.81,1.40],[0.80,1.18],[0.83,1.12],[0.71,1.06],[0.84,1.02],[-0.01,0.95],[0.21,0.95],[0.57,0.90],
[1.07,1.41],[1.15,1.41],[1.07,1.33],[1.09,1.29],[1.06,1.25],[1.13,1.28],[1.22,1.26],[1.27,1.39],[1.46,1.47],[1.52,1.46],[1.45,1.39],[1.13,1.18],[1.15,1.16],[1.32,1.28],
[2.66,1.31],[2.80,1.21],[3.34,1.38],[3.33,1.31],[3.23,1.21],[3.11,1.06],[3.20,0.91],[2.50,1.10],[2.50,0.92],[2.30,0.94],[2.21,1.17],[2.09,1.11],[2.02,0.90],[2.03,1.26],[2.12,1.35],[2.26,1.37],[2.29,1.34],[2.33,1.33],
[1.94,1.25],[1.91,1.20],[1.91,1.17],[1.86,1.10],[1.91,1.10],[1.81,1.01],[1.68,1.06],[1.66,1.10],[1.57,0.95],[1.63,0.96],[1.57,0.90],[1.78,0.90],
[0.20,0.78],[0.44,0.82],[0.09,0.61],[0.21,0.53],[0.25,0.54],[0.35,0.54],[0.18,0.43],[-0.06,0.28],[-0.12,0.20],[-0.08,0.13],[-0.01,0.06],[0.00,0.02],[-0.04,-0.06],[-0.23,-0.13],[0.35,0.02],[0.27,0.09],[0.16,0.07],[0.08,0.07],[0.09,0.11],[0.06,0.15],[0.02,0.12],[0.20,0.14],
[1.57,0.78],[1.71,0.78],[1.91,0.70],[1.39,0.76],[1.35,0.75],[1.45,0.85],[1.52,0.55],[1.57,0.51],[3.00,0.60],[1.03,0.33],[1.14,0.63],[1.14,0.58],[1.20,0.70],[0.91,0.54],[0.98,0.54],[0.82,0.49],[0.72,0.45],[0.77,0.53],[0.64,0.36],[0.58,0.35],[0.66,0.39],[0.49,0.38],[0.54,0.40],[0.56,0.44],[0.18,0.16],[0.27,0.15]
];

// ---- ticks and labels ----
var xTicks = [0, 0.5, 1, 1.5, 2, 2.5, 3, 3.5];
var xLabels = ["0.0", "0.5", "1.0", "1.5", "2.0", "2.5"];
var ksTicks = [11, 13, 15];
var ksLabels = ["11.0", "13.0", "15.0"];
var jhTicks = [0, 0.5, 1, 1.5, 2];
var jhLabels = ["0.0", "0.5", "1.0", "1.5"];
var note = "h_m between 10.0 and 11.0  sigma>0.10";

var W = 1024, H = 512;
var blue = "#0a0aee";
var serif = "'Liberation Serif', 'Times New Roman', serif";

var svg = d3.select("#chart").append("svg")
  .attr("width", W)
  .attr("height", H);

var defs = svg.append("defs");
defs.append("clipPath").attr("id", "clipL")
  .append("rect").attr("x", 0).attr("y", 0).attr("width", 511).attr("height", H);
defs.append("clipPath").attr("id", "clipR")
  .append("rect").attr("x", 513).attr("y", 0).attr("width", 511).attr("height", H);

svg.append("rect").attr("width", W).attr("height", H).style("fill", "#fff");

// scales
var xL = d3.scaleLinear().domain([0, 3.5]).range([48, 459.25]);
var yL = d3.scaleLinear().domain([11, 15]).range([133, 400]);
var xR = d3.scaleLinear().domain([0, 3.5]).range([560, 971.25]);
var yR = d3.scaleLinear().domain([0, 2]).range([432.5, 32.5]);

function grid(g, x, y, yTicks, x0, x1) {
  g.selectAll(".vg").data(xTicks).enter().append("line")
    .attr("class", "vg")
    .attr("x1", function(d) { return x(d); })
    .attr("x2", function(d) { return x(d); })
    .attr("y1", 0).attr("y2", H)
    .style("stroke", "#d9d9d9").style("stroke-width", 2);
  g.selectAll(".hg").data(yTicks).enter().append("line")
    .attr("class", "hg")
    .attr("x1", x0).attr("x2", x1)
    .attr("y1", function(d) { return y(d); })
    .attr("y2", function(d) { return y(d); })
    .style("stroke", "#d9d9d9").style("stroke-width", 2);
}

function dots(g, data, x, y) {
  g.selectAll(".pt").data(data).enter().append("circle")
    .attr("class", "pt")
    .attr("cx", function(d) { return x(d[0]); })
    .attr("cy", function(d) { return y(d[1]); })
    .attr("r", 2.5)
    .style("fill", "#000")
    .style("fill-opacity", 0.34);
}

// left panel
var left = svg.append("g").attr("clip-path", "url(#clipL)");
grid(left, xL, yL, ksTicks, 0, 511);
dots(left.append("g"), ksSparse, xL, yL);
dots(left.append("g"), ksCloud, xL, yL);

// right panel
var right = svg.append("g").attr("clip-path", "url(#clipR)");
grid(right, xR, yR, jhTicks, 513, 1024);
dots(right.append("g"), jhSparse, xR, yR);
dots(right.append("g"), jhBand, xR, yR);

// tick labels
svg.append("g").selectAll("text").data(xLabels).enter().append("text")
  .attr("x", function(d, i) { return xL(xTicks[i]) + 3; })
  .attr("y", 498)
  .text(function(d) { return d; });
svg.append("g").selectAll("text").data(xLabels).enter().append("text")
  .attr("x", function(d, i) { return xR(xTicks[i]) + 4.5; })
  .attr("y", 453)
  .text(function(d) { return d; });
svg.append("g").selectAll("text").data(ksLabels).enter().append("text")
  .attr("x", 4)
  .attr("y", function(d, i) { return yL(ksTicks[i]) - 5; })
  .text(function(d) { return d; });
svg.append("g").selectAll("text").data(jhLabels).enter().append("text")
  .attr("x", 518)
  .attr("y", function(d, i) { return yR(jhTicks[i]) - 5; })
  .text(function(d) { return d; });
svg.selectAll("g text")
  .style("font-family", serif)
  .style("font-size", "18px")
  .style("fill", blue);

// axis titles
var titles = [
  { t: "Ks", x: 8, y: 68 },
  { t: "J \u2013 Ks", x: 242, y: 469 },
  { t: "J \u2013 H", x: 522, y: 70 },
  { t: "J \u2013 Ks", x: 715, y: 488 }
];
svg.selectAll(".title").data(titles).enter().append("text")
  .attr("class", "title")
  .attr("x", function(d) { return d.x; })
  .attr("y", function(d) { return d.y; })
  .style("font-family", serif)
  .style("font-size", "24px")
  .style("fill", blue)
  .text(function(d) { return d.t; });

// note in a pixel-ish mono font
svg.append("text")
  .attr("x", 128)
  .attr("y", 367)
  .attr("textLength", 333)
  .attr("lengthAdjust", "spacingAndGlyphs")
  .style("white-space", "pre")
  .style("font-family", "'DejaVu Sans Mono', monospace")
  .style("font-weight", "bold")
  .style("font-size", "32px")
  .style("fill", "#000")
  .text(note);

// frame
svg.append("line").attr("x1", 0.5).attr("x2", 0.5).attr("y1", 0).attr("y2", H)
  .style("stroke", "#999").style("stroke-width", 1);
svg.append("line").attr("x1", 1023.5).attr("x2", 1023.5).attr("y1", 0).attr("y2", H)
  .style("stroke", "#999").style("stroke-width", 1);
svg.append("line").attr("x1", 512.2).attr("x2", 512.2).attr("y1", 0).attr("y2", H)
  .style("stroke", "#a6a6a6").style("stroke-width", 2.5);
svg.append("line").attr("x1", 0).attr("x2", W).attr("y1", 0.5).attr("y2", 0.5)
  .style("stroke", "#555").style("stroke-width", 1);
svg.append("line").attr("x1", 0).attr("x2", W).attr("y1", 511.5).attr("y2", 511.5)
  .style("stroke", "#555").style("stroke-width", 1);
</script>
</body>
</html>
